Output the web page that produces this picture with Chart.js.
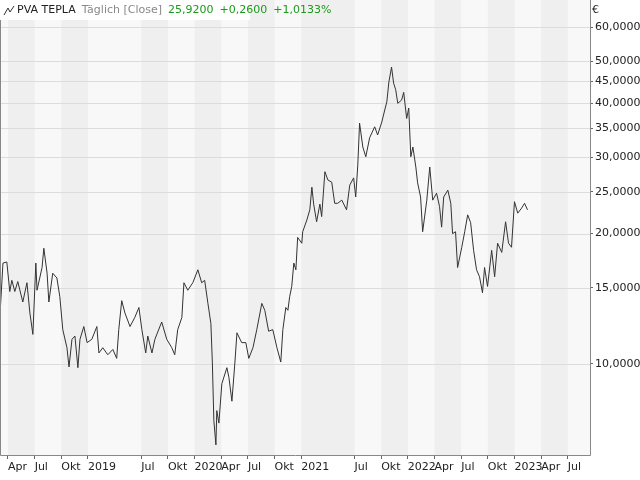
<!DOCTYPE html>
<html><head><meta charset="utf-8">
<script src="https://cdn.jsdelivr.net/npm/chart.js@4/dist/chart.umd.min.js"></script>
<style>html,body{margin:0;padding:0;background:#fff}canvas{display:block}</style>
</head><body>
<canvas id="c" width="640" height="480"></canvas>
<script>
const dates = ["2018-03-04","2018-03-14","2018-03-27","2018-04-07","2018-04-14","2018-04-24","2018-05-04","2018-05-21","2018-06-05","2018-06-15","2018-06-25","2018-07-05","2018-07-09","2018-07-26","2018-08-02","2018-08-13","2018-08-19","2018-09-02","2018-09-16","2018-09-26","2018-10-06","2018-10-20","2018-10-27","2018-11-07","2018-11-17","2018-11-27","2018-12-04","2018-12-17","2018-12-28",
"2019-01-14","2019-02-01","2019-02-08","2019-02-21","2019-03-08","2019-03-25","2019-04-08","2019-04-15","2019-04-25","2019-05-06","2019-05-23","2019-06-09","2019-06-23","2019-07-03","2019-07-16","2019-07-23","2019-08-07","2019-08-17","2019-09-10","2019-09-27","2019-10-14","2019-10-24","2019-11-04","2019-11-18","2019-11-25","2019-12-08","2019-12-25",
"2020-01-12","2020-01-25","2020-02-05","2020-02-16","2020-02-26","2020-03-01","2020-03-06","2020-03-13","2020-03-16","2020-03-23","2020-04-03","2020-04-20","2020-04-27","2020-05-07","2020-05-17","2020-05-24","2020-06-10","2020-06-24","2020-07-04","2020-07-18","2020-08-01","2020-08-18","2020-08-28","2020-09-11","2020-09-25","2020-10-09","2020-10-22","2020-10-29","2020-11-09","2020-11-16","2020-11-22","2020-11-29","2020-12-06","2020-12-13","2020-12-19",
"2021-01-03","2021-01-06","2021-01-20","2021-01-30","2021-02-07","2021-02-13","2021-02-23","2021-03-04","2021-03-10","2021-03-21","2021-04-01","2021-04-14","2021-04-24","2021-05-04","2021-05-18","2021-06-04","2021-06-15","2021-06-28","2021-07-05","2021-07-12","2021-07-18","2021-07-29","2021-08-09","2021-08-22","2021-09-09","2021-09-19","2021-10-03","2021-10-13","2021-10-20","2021-10-27","2021-11-06","2021-11-13","2021-11-20","2021-11-27","2021-12-10","2021-12-17","2021-12-27",
"2022-01-04","2022-01-11","2022-01-18","2022-01-28","2022-02-04","2022-02-14","2022-02-21","2022-03-05","2022-03-15","2022-03-25","2022-04-08","2022-04-18","2022-04-25","2022-05-02","2022-05-16","2022-05-26","2022-06-02","2022-06-12","2022-06-19","2022-07-03","2022-07-13","2022-07-23","2022-08-03","2022-08-13","2022-08-23","2022-09-03","2022-09-13","2022-09-20","2022-09-30","2022-10-14","2022-10-24","2022-11-04","2022-11-18","2022-12-01","2022-12-11","2022-12-21",
"2023-01-01","2023-01-12","2023-01-25","2023-02-05","2023-02-15"];
const closes = [13.0,17.1,17.2,14.7,15.6,14.7,15.5,13.9,15.4,13.1,11.7,17.1,14.8,16.7,18.5,16.2,13.9,16.2,15.8,14.3,12.0,10.9,9.84,11.4,11.6,9.8,11.4,12.2,11.2,
11.4,12.2,10.6,10.9,10.5,10.8,10.3,12.0,14.0,13.1,12.2,12.8,13.5,12.0,10.6,11.6,10.6,11.4,12.5,11.4,10.9,10.5,12.0,12.8,15.4,14.8,15.4,
16.5,15.4,15.6,13.8,12.4,10.05,7.4,6.5,7.8,7.3,9.0,9.8,9.3,8.2,10.05,11.8,11.2,11.2,10.3,10.9,12.0,13.8,13.3,11.9,12.0,10.9,10.1,12.0,13.5,13.3,14.3,15.1,17.1,16.5,19.6,
19.0,20.2,21.5,22.7,25.6,23.4,21.3,23.4,21.9,27.8,26.6,26.3,23.5,23.5,23.9,22.7,25.9,26.9,24.3,28.8,36.0,31.7,30.1,33.3,35.3,33.8,36.2,38.6,40.3,44.8,48.5,44.5,43.0,40.0,40.7,42.4,36.9,
39.0,30.1,31.7,28.5,26.2,24.3,20.2,23.9,28.5,23.9,24.8,23.1,20.7,24.3,25.2,23.5,20.0,20.2,16.7,18.6,20.2,22.1,21.2,18.3,16.5,15.9,14.6,16.7,15.1,18.3,15.9,19.0,18.1,21.3,19.0,18.6,
23.7,22.3,22.9,23.5,22.7];
const xTickDates = ["2018-04","2018-07","2018-10","2019-01","2019-07","2019-10","2020-01","2020-04","2020-07","2020-10","2021-01","2021-07","2021-10","2022-01","2022-04","2022-07","2022-10","2023-01","2023-04","2023-07"];
const xTickLabels = ["Apr","Jul","Okt","2019","Jul","Okt","2020","Apr","Jul","Okt","2021","Jul","Okt","2022","Apr","Jul","Okt","2023","Apr","Jul"];
const yTicks = [10,15,20,25,30,35,40,45,50,60];

function toM(s){const p=s.split('-').map(Number);return (p[0]-2018)*12+(p[1]-1)+((p[2]||1)-1)/30;}
const pts = dates.map((d,i)=>({x:toM(d),y:closes[i]}));
const xTickPos = xTickDates.map(toM);

const bg = {id:'bg',beforeDatasetsDraw(ch){const {ctx,chartArea:a,scales:{x}}=ch;ctx.save();
  ctx.fillStyle='#f8f8f8';ctx.fillRect(a.left,a.top,a.right-a.left,a.bottom-a.top);
  ctx.fillStyle='#efefef';
  for(let i=0;i<xTickPos.length-1;i+=2){const l=x.getPixelForValue(xTickPos[i]),r=x.getPixelForValue(xTickPos[i+1]);ctx.fillRect(l,a.top,r-l,a.bottom-a.top);}
  const y=ch.scales.y;ctx.strokeStyle='#dcdcdc';ctx.lineWidth=1;
  yTicks.forEach(v=>{const py=Math.round(y.getPixelForValue(v))+0.5;ctx.beginPath();ctx.moveTo(a.left,py);ctx.lineTo(a.right,py);ctx.stroke();});
  ctx.restore();},
 afterDraw(ch){const {ctx,chartArea:a}=ch;ctx.save();ctx.strokeStyle='#888';ctx.lineWidth=1;
  ctx.beginPath();ctx.moveTo(a.left+0.5,a.top);ctx.lineTo(a.left+0.5,a.bottom+0.5);ctx.lineTo(a.right+0.5,a.bottom+0.5);ctx.lineTo(a.right+0.5,a.top);ctx.stroke();
  ctx.fillStyle='#fff';ctx.fillRect(0,0,250,20);
  ctx.font='11px "DejaVu Sans"';ctx.textBaseline='middle';
  ctx.strokeStyle='#333';ctx.beginPath();ctx.moveTo(4,15);ctx.lineTo(8,8);ctx.lineTo(10,12);ctx.lineTo(14,6);ctx.stroke();
  let xx=17;const seg=(t,c)=>{ctx.fillStyle=c;ctx.fillText(t,xx,10);xx+=ctx.measureText(t).width+6;};
  seg('PVA TEPLA','#222');seg('Täglich [Close]','#888');seg('25,9200','#1a9a1a');seg('+0,2600','#1a9a1a');seg('+1,0133%','#1a9a1a');
  ctx.fillStyle='#222';ctx.fillText('€',592,10);
  ctx.restore();}};

new Chart(document.getElementById('c'),{type:'line',
 data:{datasets:[{data:pts,borderColor:'#333',borderWidth:1,pointRadius:0,tension:0,fill:false}]},
 options:{responsive:false,animation:false,events:[],layout:{padding:0},
  plugins:{legend:{display:false},tooltip:{enabled:false}},
  scales:{
   x:{type:'linear',min:2.1,max:68.5,
     afterBuildTicks(s){s.ticks=xTickPos.map(v=>({value:v}));},
     afterFit(s){s.height=25;s.paddingLeft=0;s.paddingRight=0;},
     grid:{drawOnChartArea:false,drawTicks:true,tickLength:4,color:'#666'},border:{display:false},
     ticks:{autoSkip:false,maxRotation:0,align:'start',padding:2,color:'#222',font:{family:'DejaVu Sans',size:11},
       callback(v,i){return xTickLabels[i];}}},
   y:{type:'logarithmic',position:'right',min:6.16,max:69.3,
     afterBuildTicks(s){s.ticks=yTicks.map(v=>({value:v}));},
     afterFit(s){s.width=50;s.paddingTop=0;s.paddingBottom=0;},
     grid:{drawOnChartArea:false,drawTicks:true,tickLength:3,color:'#666'},border:{display:false},
     ticks:{padding:2,color:'#222',font:{family:'DejaVu Sans',size:11},callback(v){return v.toFixed(4).replace('.',',');}}}
  }},plugins:[bg]});
</script></body></html>
